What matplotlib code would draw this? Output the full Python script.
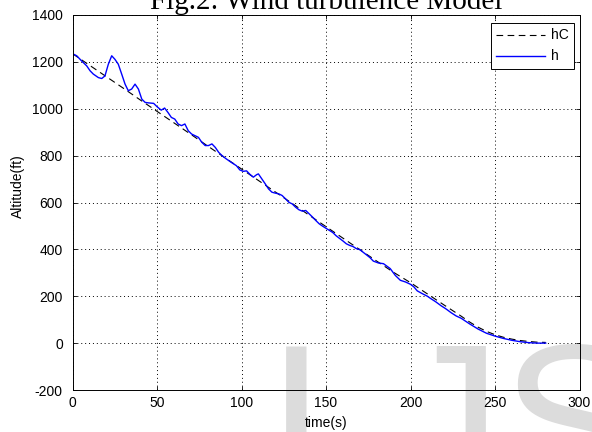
import matplotlib
matplotlib.use("Agg")
import matplotlib.pyplot as plt

# commanded altitude (dashed)
t_cmd = [0, 10, 20, 30, 40, 50, 60, 70, 80, 90, 100, 110, 120, 130, 140, 150,
         160, 170, 180, 190, 200, 210, 220, 230, 235, 240, 245, 250, 255, 260,
         265, 270, 275, 280]
h_cmd = [1235, 1186, 1137, 1088, 1038, 989, 940, 891, 841, 792, 743, 694, 645,
         596, 546, 497, 448, 399, 350, 302, 258, 210, 162, 115, 90, 68, 50, 36,
         25, 17, 11, 7, 4, 3]

# actual altitude with wind turbulence
t_act = [0, 2.5, 5.4, 8.4, 10.4, 12.3, 15.3, 17.3, 19.2, 21.2, 23.2, 25.1, 27.1,
         29.1, 31.1, 33, 35, 37, 39, 41, 43, 45, 48, 50, 52.5, 54.5, 56.5, 58.5,
         60.5, 62.5, 64.5, 66.5, 68.5, 70.5, 72.5, 74.5, 76.5, 78.5, 80.5, 82.5,
         84.5, 86.5, 88.5, 91, 94, 97, 99, 101, 103, 105, 107, 109, 110, 112,
         114, 116, 118, 120, 122, 124, 126, 128, 130, 132, 134, 136, 138, 140,
         142, 144, 146, 148, 150, 152, 154, 156, 158, 160, 162, 164, 166, 168,
         170, 173, 176, 178, 181, 184, 188, 191, 194, 197, 200, 202, 204, 207,
         210, 212, 215, 218, 221, 224, 227, 230, 235, 240, 245, 250, 255, 260,
         265, 270, 275, 280]
h_act = [1235, 1226, 1204, 1183, 1162, 1148, 1133, 1129, 1140, 1190, 1226, 1211,
         1190, 1148, 1105, 1077, 1084, 1105, 1084, 1041, 1027, 1025, 1023, 1009,
         994, 1003, 984, 963, 956, 935, 928, 935, 906, 892, 885, 878, 857, 843,
         843, 850, 835, 814, 800, 786, 771, 757, 739, 733, 735, 720, 708, 719,
         722, 701, 680, 658, 644, 640, 637, 630, 616, 601, 594, 580, 569, 563,
         566, 552, 538, 523, 509, 499, 490, 481, 472, 458, 447, 436, 424, 417,
         412, 403, 399, 382, 365, 350, 342, 339, 318, 289, 268, 261, 251, 240,
         223, 211, 200, 190, 176, 160, 146, 130, 116, 106, 82, 60, 42, 30, 20,
         12, 6, 2, 0, 0]

xticks = [0, 50, 100, 150, 200, 250, 300]
yticks = [-200, 0, 200, 400, 600, 800, 1000, 1200, 1400]

plt.rcParams["font.family"] = ["Liberation Sans", "DejaVu Sans"]
plt.rcParams["axes.unicode_minus"] = False

fig = plt.figure(figsize=(5.92, 4.32), dpi=100)
ax = fig.add_axes([72.5 / 592, 1 - 390 / 432, 507 / 592, 375 / 432])
ax.patch.set_alpha(0)

# watermark (IJSER) behind the axes
wm = dict(fontsize=157, color="#dcdcdc", family="Liberation Sans",
          ha="left", va="baseline", zorder=-1)
fig.text(266 / 592, 1 - 496 / 432, "I", **wm)
fig.text(393 / 592, 1 - 496 / 432, "JSER", **wm)

ax.plot(t_cmd, h_cmd, color="k", lw=0.8, ls=(0, (6, 4)), label="hC")
ax.plot(t_act, h_act, color="#0000ff", lw=1.0, label="h")

ax.set_xlim(0, 300)
ax.set_ylim(-200, 1400)
ax.set_xticks(xticks)
ax.set_yticks(yticks)
ax.tick_params(direction="in", length=3, width=0.6, top=True, right=True,
               labelsize=10)
ax.tick_params(axis="y", pad=7)
ax.tick_params(axis="x", pad=4)
ax.grid(True, color="k", ls=(0, (1, 3)), lw=0.7)
for s in ax.spines.values():
    s.set_linewidth(0.7)

ax.set_xlabel("time(s)", fontsize=10, labelpad=5)
fig.text(18 / 592, 1 - 186 / 432, "Altitude(ft)", rotation=90, fontsize=10,
         ha="center", va="center")

leg = ax.legend(loc="upper right", bbox_to_anchor=(0.989, 0.979),
                borderaxespad=0, fancybox=False, edgecolor="k", fontsize=10,
                handlelength=3.5, handletextpad=0.4, framealpha=1)
leg.get_frame().set_linewidth(0.7)

fig.text(326 / 592, 1 - 9 / 432, "Fig.2: Wind turbulence Model",
         family="Liberation Serif", fontsize=21, ha="center", va="baseline")

fig.savefig("out.png", dpi=100)
